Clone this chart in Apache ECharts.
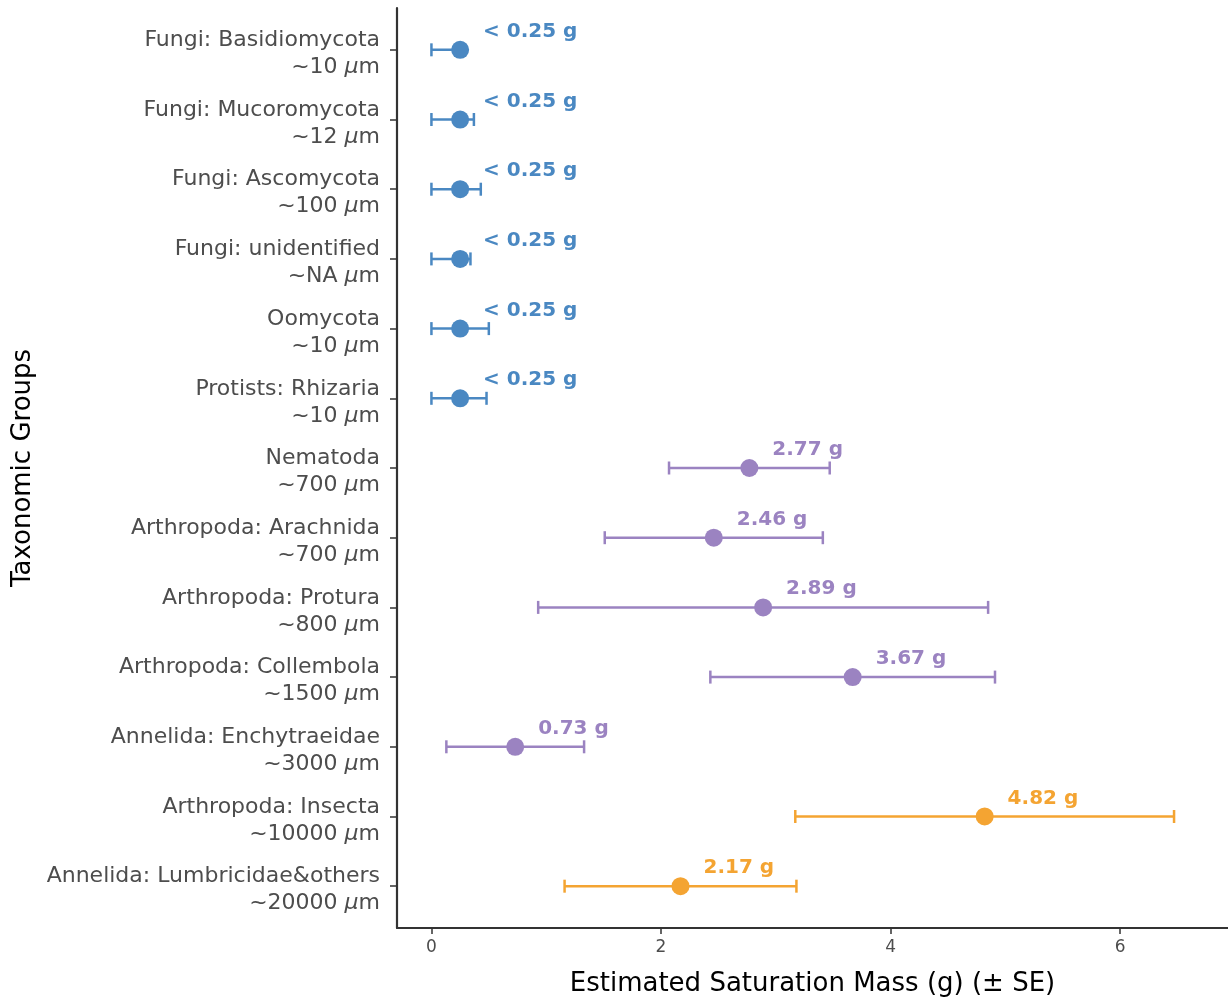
<!DOCTYPE html>
<html>
<head>
<meta charset="utf-8">
<script src="https://cdn.jsdelivr.net/npm/echarts@6/dist/echarts.min.js"></script>
<style>
  html, body { margin: 0; padding: 0; background: #ffffff; }
  #chart { width: 1228px; height: 1004px; }
</style>
</head>
<body>
<div id="chart"></div>
<script>
// Taxonomic groups, top to bottom
const taxa = [
  'Fungi: Basidiomycota', 'Fungi: Mucoromycota', 'Fungi: Ascomycota', 'Fungi: unidentified',
  'Oomycota', 'Protists: Rhizaria', 'Nematoda', 'Arthropoda: Arachnida', 'Arthropoda: Protura',
  'Arthropoda: Collembola', 'Annelida: Enchytraeidae', 'Arthropoda: Insecta', 'Annelida: Lumbricidae&others'
];
// Typical body size of each group
const bodySizes = ['10', '12', '100', 'NA', '10', '10', '700', '700', '800', '1500', '3000', '10000', '20000'];
// Size class of each group (sets the colour)
const sizeClass = ['micro', 'micro', 'micro', 'micro', 'micro', 'micro',
  'meso', 'meso', 'meso', 'meso', 'meso', 'macro', 'macro'];
// Estimated saturation mass (g)
const estimates = [0.25, 0.25, 0.25, 0.25, 0.25, 0.25, 2.77, 2.46, 2.89, 3.67, 0.73, 4.82, 2.17];
// Lower / upper ends of the +/- SE interval (g)
const lowerSE = [0, 0, 0, 0, 0, 0, 2.07, 1.51, 0.93, 2.43, 0.13, 3.17, 1.16];
const upperSE = [0.28, 0.37, 0.43, 0.34, 0.50, 0.48, 3.47, 3.41, 4.85, 4.91, 1.33, 6.47, 3.18];
// Detection floor: estimates at or below it are reported as "< floor"
const detectionFloor = 0.25;
// x-axis ticks
const xTicks = [0, 2, 4, 6];

const classColors = { micro: '#4A88C2', meso: '#9B83C1', macro: '#F4A432' };
const FONT = '"DejaVu Sans", "Liberation Sans", sans-serif';
const rowIndex = taxa.map((_, i) => i);

function massText(i) {
  const v = estimates[i];
  return v <= detectionFloor ? '< ' + detectionFloor.toFixed(2) + ' g' : v.toFixed(2) + ' g';
}

const chart = echarts.init(document.getElementById('chart'), null, { renderer: 'canvas' });

chart.setOption({
  backgroundColor: '#ffffff',
  animation: false,
  grid: { left: 397, right: 0, top: 8, bottom: 76, containLabel: false, outerBoundsMode: 'none' },
  xAxis: {
    type: 'value',
    min: -0.3,
    max: 6.94,
    axisLine: { show: true, onZero: false, lineStyle: { color: '#333333', width: 2.2 } },
    axisTick: { show: true, customValues: xTicks, length: 6, lineStyle: { color: '#333333', width: 1.5 } },
    axisLabel: { customValues: xTicks, fontSize: 17, color: '#4d4d4d', margin: 11, fontFamily: FONT },
    splitLine: { show: false },
    name: 'Estimated Saturation Mass (g) (\u00b1 SE)',
    nameLocation: 'middle',
    nameGap: 43,
    nameTextStyle: { fontSize: 26, color: '#000000', fontFamily: FONT }
  },
  yAxis: {
    type: 'value',
    inverse: true,
    min: -0.6,
    max: 12.6,
    axisLine: { show: true, onZero: false, lineStyle: { color: '#333333', width: 2.2 } },
    axisTick: { show: true, customValues: rowIndex, length: 7, lineStyle: { color: '#333333', width: 1.5 } },
    axisLabel: {
      customValues: rowIndex,
      formatter: v => taxa[v] + '\n~' + bodySizes[v] + ' {mu|\u03bc}m',
      fontSize: 22,
      lineHeight: 27,
      padding: [8, 0, 0, 0],
      color: '#4d4d4d',
      align: 'right',
      margin: 17,
      fontFamily: FONT,
      rich: {
        mu: { fontStyle: 'italic', fontSize: 22, lineHeight: 27, color: '#4d4d4d', fontFamily: FONT }
      }
    },
    splitLine: { show: false },
    name: 'Taxonomic Groups',
    nameLocation: 'middle',
    nameRotate: 90,
    nameGap: 356,
    nameTextStyle: { fontSize: 26, color: '#000000', fontFamily: FONT }
  },
  series: [
    {
      // SE whiskers and value labels
      type: 'custom',
      data: rowIndex.map(i => [i, lowerSE[i], upperSE[i], estimates[i]]),
      encode: { x: [1, 2, 3], y: 0 },
      renderItem: function (params, api) {
        const i = api.value(0);
        const lo = api.value(1), hi = api.value(2), est = api.value(3);
        const color = classColors[sizeClass[i]];
        const a = api.coord([lo, i]);
        const b = api.coord([hi, i]);
        const cap = 6.5;
        const lp = api.coord([est + 0.2, i - 0.26]);
        const stroke = { stroke: color, lineWidth: 2.5 };
        return {
          type: 'group',
          children: [
            { type: 'line', shape: { x1: a[0], y1: a[1], x2: b[0], y2: b[1] }, style: stroke },
            { type: 'line', shape: { x1: a[0], y1: a[1] - cap, x2: a[0], y2: a[1] + cap }, style: stroke },
            { type: 'line', shape: { x1: b[0], y1: b[1] - cap, x2: b[0], y2: b[1] + cap }, style: stroke },
            {
              type: 'text',
              x: lp[0], y: lp[1],
              style: {
                text: massText(i),
                fill: color,
                font: 'bold 20px ' + FONT,
                textAlign: 'left',
                textVerticalAlign: 'middle'
              }
            }
          ]
        };
      }
    },
    {
      // Point estimates
      type: 'scatter',
      symbol: 'circle',
      symbolSize: 18,
      data: rowIndex.map(i => ({
        value: [estimates[i], i],
        itemStyle: { color: classColors[sizeClass[i]], opacity: 1 }
      }))
    }
  ]
});
</script>
</body>
</html>
